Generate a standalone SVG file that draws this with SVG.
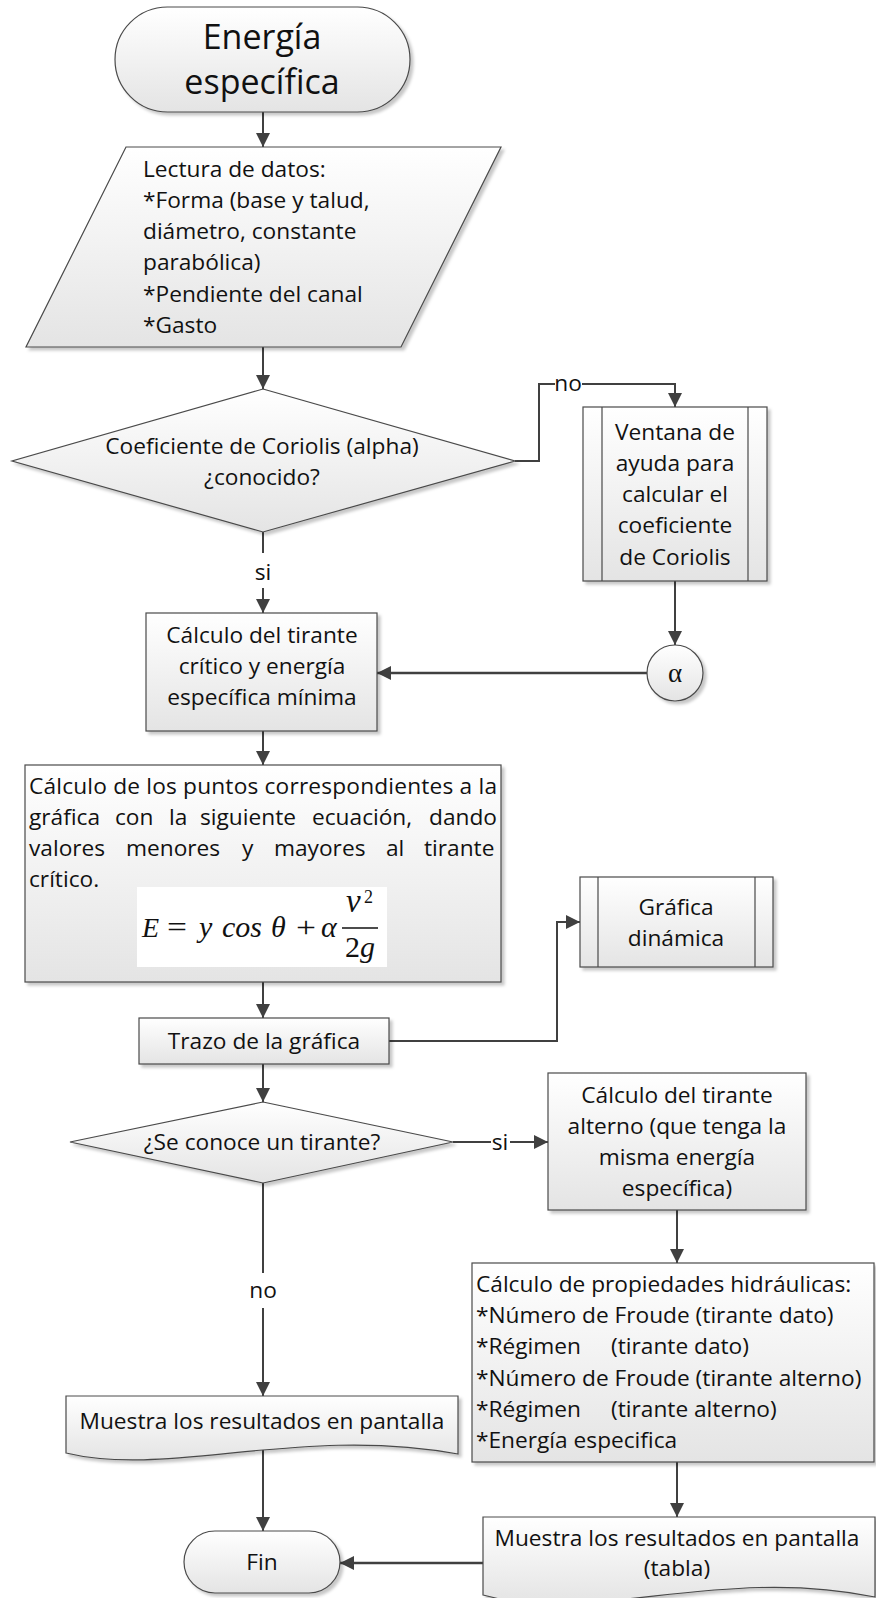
<svg xmlns="http://www.w3.org/2000/svg" width="876" height="1598" viewBox="0 0 876 1598">
<defs>
<linearGradient id="g" x1="0" y1="0" x2="0" y2="1">
<stop offset="0" stop-color="#ffffff"/>
<stop offset="1" stop-color="#e4e4e4"/>
</linearGradient>
<filter id="sh" x="-5%" y="-5%" width="115%" height="120%">
<feDropShadow dx="3" dy="3" stdDeviation="1.5" flood-color="#000" flood-opacity="0.22"/>
</filter>
<marker id="ar" markerUnits="userSpaceOnUse" markerWidth="14" markerHeight="14" refX="14" refY="7" orient="auto">
<path d="M0,0 L14,7 L0,14 Z" fill="#404040"/>
</marker>
<style>
.s{fill:url(#g);stroke:#4a4a4a;stroke-width:1.2;filter:url(#sh)}
.in{fill:none;stroke:#4a4a4a;stroke-width:1.2}
.t{font-family:'Open Sans','Liberation Sans',sans-serif;font-size:22.7px;fill:#111}
.c{text-anchor:middle}
.big{font-size:34px}
.ln{fill:none;stroke:#404040;stroke-width:2}
.thk{stroke-width:2.6}
.m{font-family:'Liberation Serif','DejaVu Serif',serif;font-size:30px;fill:#111}
.i{font-style:italic}
</style>
</defs>

<g id="connectors">
<path class="ln" d="M263,112 V147" marker-end="url(#ar)"/>
<path class="ln" d="M263,347 V389" marker-end="url(#ar)"/>
<path class="ln" d="M515,461 H539 V384 H555"/>
<path class="ln" d="M582,384 H675 V407" marker-end="url(#ar)"/>
<text class="t c" x="568" y="391">no</text>
<path class="ln" d="M263,532 V553"/>
<text class="t c" x="263" y="580">si</text>
<path class="ln" d="M263,588 V613" marker-end="url(#ar)"/>
<path class="ln" d="M675,581 V645" marker-end="url(#ar)"/>
<path class="ln thk" d="M647,673 H377" marker-end="url(#ar)"/>
<path class="ln" d="M263,731 V765" marker-end="url(#ar)"/>
<path class="ln" d="M263,982 V1018" marker-end="url(#ar)"/>
<path class="ln" d="M389,1041 H557 V922 H580" marker-end="url(#ar)"/>
<path class="ln" d="M263,1064 V1102" marker-end="url(#ar)"/>
<path class="ln" d="M453,1142 H491"/>
<text class="t c" x="500" y="1150">si</text>
<path class="ln" d="M510,1142 H548" marker-end="url(#ar)"/>
<path class="ln" d="M677,1210 V1263" marker-end="url(#ar)"/>
<path class="ln" d="M263,1183 V1273"/>
<text class="t c" x="263" y="1298">no</text>
<path class="ln" d="M263,1308 V1396" marker-end="url(#ar)"/>
<path class="ln" d="M677,1462 V1517" marker-end="url(#ar)"/>
<path class="ln" d="M263,1450 V1531" marker-end="url(#ar)"/>
<path class="ln thk" d="M483,1563 H340" marker-end="url(#ar)"/>
</g>

<g id="start">
<rect class="s" x="115" y="7" width="295" height="105" rx="52.5"/>
<text class="t c big" x="262" y="49">Energía</text>
<text class="t c big" x="262" y="94">específica</text>
</g>

<g id="lectura">
<polygon class="s" points="126,147 501,147 401,347 26,347"/>
<text class="t" x="143" y="177">Lectura de datos:</text>
<text class="t" x="143" y="208">*Forma (base y talud,</text>
<text class="t" x="143" y="239">diámetro, constante</text>
<text class="t" x="143" y="270">parabólica)</text>
<text class="t" x="143" y="302">*Pendiente del canal</text>
<text class="t" x="143" y="333">*Gasto</text>
</g>

<g id="decision1">
<polygon class="s" points="263,389 515,461 263,532 12,461"/>
<text class="t c" x="262" y="454">Coeficiente de Coriolis (alpha)</text>
<text class="t c" x="262" y="485">¿conocido?</text>
</g>

<g id="ventana">
<rect class="s" x="583" y="407" width="184" height="174"/>
<path class="in" d="M602,407 V581 M748,407 V581"/>
<text class="t c" x="675" y="440">Ventana de</text>
<text class="t c" x="675" y="471">ayuda para</text>
<text class="t c" x="675" y="502">calcular el</text>
<text class="t c" x="675" y="533">coeficiente</text>
<text class="t c" x="675" y="565">de Coriolis</text>
</g>

<g id="alpha">
<circle class="s" cx="675" cy="673" r="28"/>
<text class="m c" x="675" y="682" style="font-size:27px">α</text>
</g>

<g id="critico">
<rect class="s" x="146" y="613" width="231" height="118"/>
<text class="t c" x="262" y="643">Cálculo del tirante</text>
<text class="t c" x="262" y="674">crítico y energía</text>
<text class="t c" x="262" y="705">específica mínima</text>
</g>

<g id="puntos">
<rect class="s" x="25" y="765" width="476" height="217"/>
<text class="t" x="29" y="794" textLength="468" lengthAdjust="spacing">Cálculo de los puntos correspondientes a la</text>
<text class="t" y="825"><tspan x="29">gráfica</tspan><tspan x="115">con</tspan><tspan x="169">la</tspan><tspan x="200">siguiente</tspan><tspan x="312">ecuación,</tspan><tspan x="429">dando</tspan></text>
<text class="t" y="856"><tspan x="29">valores</tspan><tspan x="126">menores</tspan><tspan x="242">y</tspan><tspan x="274">mayores</tspan><tspan x="386">al</tspan><tspan x="424">tirante</tspan></text>
<text class="t" x="29" y="887">crítico.</text>
<rect x="137" y="887" width="250" height="80" fill="#ffffff"/>
<text class="m i" x="142" y="937" style="font-size:28px">E</text>
<text class="m" x="167" y="937" textLength="20" lengthAdjust="spacingAndGlyphs">=</text>
<text class="m i" x="199" y="937">y</text>
<text class="m i" x="222" y="937">cos</text>
<text class="m i" x="271" y="937">θ</text>
<text class="m" x="296" y="937" textLength="20" lengthAdjust="spacingAndGlyphs">+</text>
<text class="m i" x="321" y="937">α</text>
<path d="M342,928 H378" stroke="#111" stroke-width="1.6"/>
<text class="m i" x="346" y="912" style="font-size:33px">v</text>
<text class="m" x="364" y="903" style="font-size:18px">2</text>
<text class="m" x="345" y="957">2<tspan class="i">g</tspan></text>
</g>

<g id="trazo">
<rect class="s" x="139" y="1018" width="250" height="46"/>
<text class="t c" x="264" y="1049">Trazo de la gráfica</text>
</g>

<g id="grafica">
<rect class="s" x="580" y="877" width="193" height="90"/>
<path class="in" d="M598,877 V967 M755,877 V967"/>
<text class="t c" x="676" y="915">Gráfica</text>
<text class="t c" x="676" y="946">dinámica</text>
</g>

<g id="decision2">
<polygon class="s" points="263,1102 453,1142 263,1183 70,1142"/>
<text class="t c" x="262" y="1150">¿Se conoce un tirante?</text>
</g>

<g id="alterno">
<rect class="s" x="548" y="1073" width="258" height="137"/>
<text class="t c" x="677" y="1103">Cálculo del tirante</text>
<text class="t c" x="677" y="1134">alterno (que tenga la</text>
<text class="t c" x="677" y="1165">misma energía</text>
<text class="t c" x="677" y="1196">específica)</text>
</g>

<g id="propiedades">
<rect class="s" x="472" y="1263" width="402" height="199"/>
<text class="t" x="476" y="1292">Cálculo de propiedades hidráulicas:</text>
<text class="t" x="476" y="1323">*Número de Froude (tirante dato)</text>
<text class="t" y="1354"><tspan x="476">*Régimen</tspan><tspan x="611">(tirante dato)</tspan></text>
<text class="t" x="476" y="1386">*Número de Froude (tirante alterno)</text>
<text class="t" y="1417"><tspan x="476">*Régimen</tspan><tspan x="611">(tirante alterno)</tspan></text>
<text class="t" x="476" y="1448">*Energía especifica</text>
</g>

<g id="muestra1">
<path class="s" d="M66,1396 H458 V1454 C300,1425 170,1478 66,1453 Z"/>
<text class="t c" x="262" y="1429">Muestra los resultados en pantalla</text>
</g>

<g id="muestra2">
<path class="s" d="M483,1517 H875 V1597 C720,1565 590,1625 483,1595 Z"/>
<text class="t c" x="677" y="1546">Muestra los resultados en pantalla</text>
<text class="t c" x="677" y="1576">(tabla)</text>
</g>

<g id="fin">
<rect class="s" x="184" y="1531" width="156" height="62" rx="31"/>
<text class="t c" x="262" y="1570">Fin</text>
</g>
</svg>
